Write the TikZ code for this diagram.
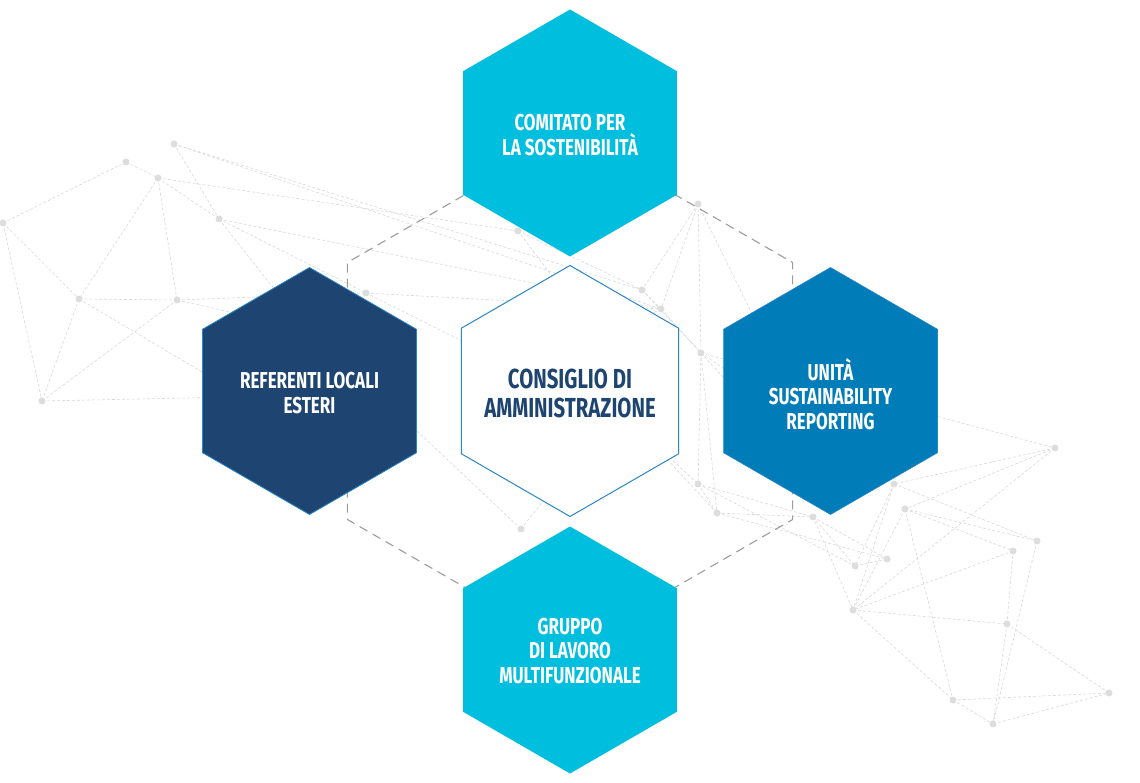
\documentclass[tikz,border=0pt]{standalone}
\usepackage{fontspec}
\newfontfamily\hexfont{Fira Sans}[FakeStretch=0.74]
\usetikzlibrary{shapes.geometric}
\definecolor{cyanhex}{HTML}{00BEDE}
\definecolor{navyhex}{HTML}{1E4571}
\definecolor{bluehex}{HTML}{007CB8}
\definecolor{edgeblue}{HTML}{2A86C8}
\definecolor{netgray}{HTML}{D8D8D8}
\definecolor{dotgray}{HTML}{DDDDDD}
\definecolor{dashgray}{HTML}{9C9C9C}
\tikzset{
  hexbox/.style={regular polygon, regular polygon sides=6, shape border rotate=30,
    minimum size=247pt, inner sep=0pt, outer sep=0pt},
  hextext/.style={align=center, inner sep=0pt, text=white,
    font=\hexfont\bfseries\fontsize{23}{24.5}\selectfont},
  centerhex/.style={hexbox, minimum size=251pt, fill=white, draw=edgeblue, line width=1pt},
  centertext/.style={hextext, text=navyhex, font=\hexfont\bfseries\fontsize{27.5}{29}\selectfont},
  net/.style={draw=netgray, line width=0.6pt, dash pattern=on 3pt off 2pt},
  netdot/.style={circle, fill=dotgray, minimum size=7pt, inner sep=0pt, outer sep=0pt},
  frame/.style={draw=dashgray, line width=1.1pt, dash pattern=on 9pt off 6pt}
}
\begin{document}
\begin{tikzpicture}[x=1pt,y=-1pt]
\useasboundingbox (0,0) rectangle (1140,783);
% ---------- background network ----------
\foreach \n/\x/\y in {A/174/144, B/126/162, C/158/178, D/3/223, E/219/219, F/79/299,
  G/177/300, H/42/401, I/366/293, N/518/231, J/698/204, K/642/290, L/661/309,
  M/701/353, O/698/484, P/717/513, BB/521/529, Q/813/517, R/894/484, S/905/509,
  T/1055/448, U/1037/541, V/1013/551, W/855/566, X/887/559, Y/853/610,
  Z/1007/624, AA/953/700, AB/993/724, AC/1109/693}
  \coordinate (\n) at (\x,\y);
\foreach \n/\x/\y in {h1/330/395, h2/310/330, h3/300/430, h4/330/360,
  c1/600/340, c2/640/430, c3/560/480, h5/760/330, h6/790/450}
  \coordinate (\n) at (\x,\y);
\foreach \a/\b in {D/B, B/C, A/E, C/E, C/G, C/F, D/F, D/H, F/G, F/H, G/H, H/h1,
  G/h2, F/h3, E/h4, A/K, A/L, E/L, E/I, G/I, I/L, I/c2, C/N, N/K, N/c1,
  J/K, J/L, J/M, K/L, K/M, L/M, J/h5, L/c1, M/T, M/R, M/P, M/O, M/h6,
  O/P, P/Q, O/Q, O/W, P/X, Q/W, Q/X, c2/O, c2/P, BB/c3, BB/h2,
  R/W, R/Y, S/Y, S/U, S/V, R/U, T/S, T/Y, T/R, V/Y, Y/Z, Y/AA, S/AA,
  V/Z, U/AB, Z/AC, Z/AB, AA/AB, AA/AC, AB/AC, W/X, Q/Y}
  \draw[net] (\a) -- (\b);
\foreach \n in {A,B,C,D,E,F,G,H,I,N,J,K,L,M,O,P,BB,Q,R,S,T,U,V,W,X,Y,Z,AA,AB,AC}
  \node[netdot] (dot\n) at (\n) {};
% ---------- dashed frame hexagon ----------
\coordinate (f1) at (570,134);
\coordinate (f2) at (792.6,262.5);
\coordinate (f3) at (792.6,519.5);
\coordinate (f4) at (570,648);
\coordinate (f5) at (347.4,519.5);
\coordinate (f6) at (347.4,262.5);
\draw[frame] (f1) -- (f2) -- (f3) -- (f4) -- (f5) -- (f6) -- cycle;
% ---------- hexagons ----------
\node[hexbox, fill=cyanhex] (top) at (570,133) {};
\node[hexbox, fill=navyhex, draw=edgeblue, line width=0.8pt] (left) at (309.5,391) {};
\node[hexbox, fill=bluehex, draw=edgeblue, line width=0.6pt] (right) at (830.5,391) {};
\node[hexbox, fill=cyanhex] (bottom) at (570,650) {};
\node[centerhex] (center) at (570,391) {};
% ---------- texts ----------
\node[hextext] (topT) at ([yshift=-2pt]top.center) {COMITATO PER\\LA SOSTENIBILITÀ};
\node[hextext] (leftT) at ([yshift=-2pt]left.center) {REFERENTI LOCALI\\ESTERI};
\node[hextext] (rightT) at ([yshift=-3pt]right.center) {UNITÀ\\SUSTAINABILITY\\REPORTING};
\node[hextext] (bottomT) at ([yshift=-1pt]bottom.center) {GRUPPO\\DI LAVORO\\MULTIFUNZIONALE};
\node[centertext] (centerT) at ([yshift=-2pt]center.center) {CONSIGLIO DI\\AMMINISTRAZIONE};
\end{tikzpicture}
\end{document}
